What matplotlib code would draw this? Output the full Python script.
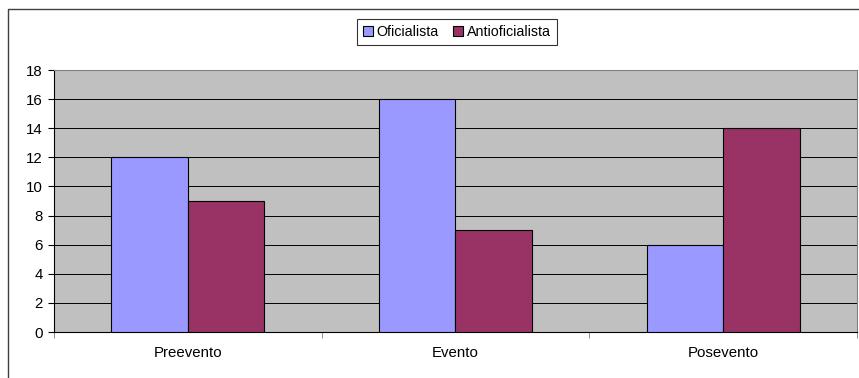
import numpy as np
import matplotlib.pyplot as plt
from matplotlib.lines import Line2D

plt.rcParams['font.family'] = ['Liberation Sans', 'DejaVu Sans']

categorias = ['Preevento', 'Evento', 'Posevento']
oficialista = [12, 16, 6]
antioficialista = [9, 7, 14]
series = ['Oficialista', 'Antioficialista']
yticks = [0, 2, 4, 6, 8, 10, 12, 14, 16, 18]

fig = plt.figure(figsize=(8.59, 3.78), dpi=100)
ax = fig.add_axes([54/859, 46/378, 803/859, 262/378])
ax.set_facecolor('#C0C0C0')

x = np.arange(len(categorias))
w = 1/3.5
ax.bar(x - w/2, oficialista, w, color='#9999FF', edgecolor='black', linewidth=0.8,
       label=series[0], zorder=3)
ax.bar(x + w/2, antioficialista, w, color='#993366', edgecolor='black', linewidth=0.8,
       label=series[1], zorder=3)

ax.set_xlim(-0.5, len(categorias) - 0.5)
ax.set_ylim(0, 18)
ax.set_yticks(yticks)
ax.yaxis.grid(True, color='black', linewidth=0.7, zorder=1)
ax.set_axisbelow(True)

# etiquetas en el centro, marcas entre categorias
ax.set_xticks(x)
ax.set_xticklabels(categorias, fontsize=10.8)
ax.tick_params(axis='x', length=0, pad=10)
ax.set_xticks([-0.5, 0.5, 1.5, 2.5], minor=True)
ax.tick_params(axis='x', which='minor', length=4, color='#808080')
ax.tick_params(axis='y', labelsize=10.8, length=4, color='black', pad=4)

for s in ax.spines.values():
    s.set_color('#808080')
    s.set_linewidth(0.8)
ax.spines['bottom'].set_color('black')
ax.spines['left'].set_color('black')

leg = ax.legend(loc='center', bbox_to_anchor=(457/859, 1 - 32/378),
                bbox_transform=fig.transFigure, ncol=2, fontsize=10.3,
                frameon=True, fancybox=False, handlelength=0.7, handleheight=0.7,
                handletextpad=0.25, columnspacing=1.0, borderpad=0.45)
leg.get_frame().set_edgecolor('black')
leg.get_frame().set_linewidth(0.8)

# borde exterior del grafico (recortado)
fig.add_artist(Line2D([8/859, 8/859, 1.0], [0.0, 1 - 9/378, 1 - 9/378],
                      transform=fig.transFigure, color='#404040', linewidth=1.0))

fig.savefig('out.png', dpi=100)
